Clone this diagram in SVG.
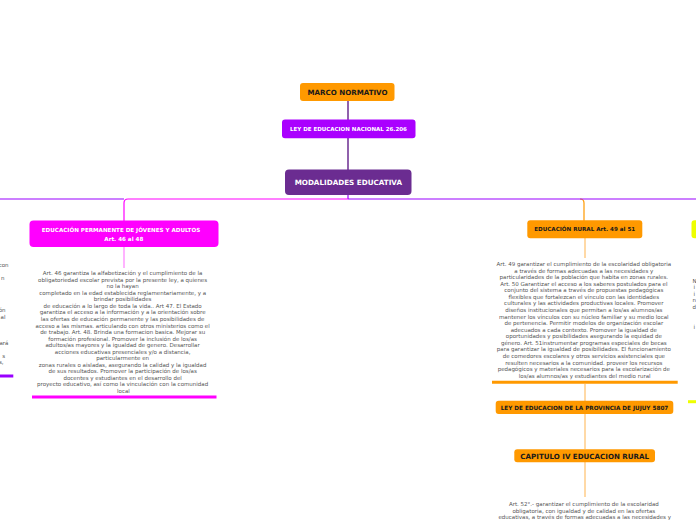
<svg xmlns="http://www.w3.org/2000/svg" width="696" height="520" viewBox="0 0 696 520">
<style>
.nb{font-family:"DejaVu Sans",Verdana,sans-serif;font-weight:bold;text-anchor:middle}
.p{font-family:"DejaVu Sans",Verdana,sans-serif;font-size:5.5px;fill:#555;text-anchor:middle}
.pe{font-family:"DejaVu Sans",Verdana,sans-serif;font-size:5.5px;fill:#555;text-anchor:end}
.ps{font-family:"DejaVu Sans",Verdana,sans-serif;font-size:5.5px;fill:#555;text-anchor:start}
.dark{fill:#1a1a1a}
.white{fill:#fff}
</style>
<rect width="696" height="520" fill="#fff"/>
<g id="connectors" fill="none">
<line x1="348" y1="101" x2="348" y2="120" stroke="#6b2c91" stroke-width="1.5"/>
<line x1="348" y1="138" x2="348" y2="170" stroke="#6b2c91" stroke-width="1.5"/>
<line x1="348" y1="195" x2="348" y2="199" stroke="#9900ff" stroke-width="1.2"/>
<path d="M348,199 H128 Q124,199 124,203 V221" stroke="#ff00ff" stroke-width="1.2"/>
<path d="M580,199 Q584,199 584,203 V221" stroke="#ff9900" stroke-width="1.2"/>
<line x1="0" y1="199" x2="124" y2="199" stroke="#9900ff" stroke-width="1.2"/>
<line x1="348" y1="199" x2="696" y2="199" stroke="#9900ff" stroke-width="1.2"/>
<line x1="124" y1="247" x2="124" y2="268" stroke="#ffb3ff" stroke-width="2"/>
<line x1="585" y1="238" x2="585" y2="258" stroke="#ffd9a6" stroke-width="2"/>
<line x1="585" y1="384" x2="585" y2="401" stroke="#ffd9a6" stroke-width="2"/>
<line x1="585" y1="414" x2="585" y2="449" stroke="#ffd9a6" stroke-width="2"/>
<line x1="585" y1="462" x2="585" y2="497" stroke="#ffd9a6" stroke-width="2"/>
</g>
<g id="marco">
<rect x="300" y="83" width="94.5" height="18" rx="3" fill="#ff9900"/>
<text class="nb dark" x="347.5" y="94.6" font-size="7.1">MARCO NORMATIVO</text>
</g>
<g id="ley-nacional">
<rect x="282" y="119.5" width="133.5" height="18.8" rx="3" fill="#aa00ff"/>
<text class="nb white" x="348.5" y="130.9" font-size="5.5">LEY DE EDUCACION NACIONAL 26.206</text>
</g>
<g id="modalidades">
<rect x="285" y="169.5" width="126.5" height="25.5" rx="4" fill="#6b2c91"/>
<text class="nb white" x="348.3" y="184.7" font-size="7.2">MODALIDADES EDUCATIVA</text>
</g>
<g id="permanente">
<rect x="29.5" y="220.5" width="189" height="26.5" rx="4" fill="#ff00ff"/>
<text class="nb white" x="121" y="232" font-size="5.6">EDUCACIÓN  PERMANENTE DE JÓVENES Y ADULTOS</text>
<text class="nb white" x="123.8" y="241.2" font-size="5.6">Art. 46 al 48</text>
</g>
<g id="permanente-texto">
<text class="p">
<tspan x="123.5" y="275.3">Art. 46 garantiza la alfabetización y el cumplimiento de la</tspan>
<tspan x="123.5" dy="6.53">obligatoriedad escolar prevista por la presente ley, a quienes</tspan>
<tspan x="123.5" dy="6.53">no la hayan</tspan>
<tspan x="123.5" dy="6.53">completado en la edad establecida reglamentariamente, y a</tspan>
<tspan x="123.5" dy="6.53">brindar posibilidades</tspan>
<tspan x="123.5" dy="6.53">de educación a lo largo de toda la vida.. Art 47. El Estado</tspan>
<tspan x="123.5" dy="6.53">garantiza el acceso a la información y a la orientación sobre</tspan>
<tspan x="123.5" dy="6.53">las ofertas de educación permanente y las posibilidades de</tspan>
<tspan x="123.5" dy="6.53">acceso a las mismas. articulando con otros ministerios como el</tspan>
<tspan x="123.5" dy="6.53">de trabajo. Art. 48. Brinda una formacion basica. Mejorar su</tspan>
<tspan x="123.5" dy="6.53">formación profesional. Promover la inclusión de los/as</tspan>
<tspan x="123.5" dy="6.53">adultos/as mayores y la igualdad de genero. Desarrollar</tspan>
<tspan x="123.5" dy="6.53">acciones educativas presenciales y/o a distancia,</tspan>
<tspan x="123.5" dy="6.53">particularmente en</tspan>
<tspan x="123.5" dy="6.53">zonas rurales o aisladas, asegurando la calidad y la igualdad</tspan>
<tspan x="123.5" dy="6.53">de sus resultados. Promover la participación de los/as</tspan>
<tspan x="123.5" dy="6.53">docentes y estudiantes en el desarrollo del</tspan>
<tspan x="123.5" dy="6.53">proyecto educativo, así como la vinculación con la comunidad</tspan>
<tspan x="123.5" dy="6.53">local</tspan>
</text>
<line x1="32" y1="397" x2="216.5" y2="397" stroke="#ff00ff" stroke-width="3"/>
</g>
<g id="izquierda-parcial">
<text class="pe" x="8.5" y="267">con</text>
<text class="pe" x="4.5" y="280.3">n</text>
<text class="pe" x="5.5" y="312">ón</text>
<text class="pe" x="5.5" y="318.7">al</text>
<text class="pe" x="8.5" y="345.3">ará</text>
<text class="pe" x="5" y="358">s</text>
<text class="pe" x="3.5" y="364.3">s,</text>
<line x1="0" y1="376" x2="13.3" y2="376" stroke="#9900ff" stroke-width="3"/>
</g>
<g id="rural">
<rect x="527.3" y="220.3" width="115" height="18" rx="3" fill="#ff9900"/>
<text class="nb dark" x="584.7" y="231.3" font-size="5.6">EDUCACIÓN RURAL Art. 49 al 51</text>
</g>
<g id="rural-texto">
<text class="p">
<tspan x="584.7" y="266">Art. 49 garantizar el cumplimiento de la escolaridad obligatoria</tspan>
<tspan x="584.7" dy="6.57">a través de formas adecuadas a las necesidades y</tspan>
<tspan x="584.7" dy="6.57">particularidades de la población que habita en zonas rurales.</tspan>
<tspan x="584.7" dy="6.57">Art. 50 Garantizar el acceso a los saberes postulados para el</tspan>
<tspan x="584.7" dy="6.57">conjunto del sistema a través de propuestas pedagógicas</tspan>
<tspan x="584.7" dy="6.57">flexibles que fortalezcan el vínculo con las  identidades</tspan>
<tspan x="584.7" dy="6.57">culturales y las actividades productivas locales. Promover</tspan>
<tspan x="584.7" dy="6.57">diseños institucionales que permitan a los/as alumnos/as</tspan>
<tspan x="584.7" dy="6.57">mantener los vínculos con su núcleo familiar y su medio local</tspan>
<tspan x="584.7" dy="6.57">de pertenencia.  Permitir modelos de organización escolar</tspan>
<tspan x="584.7" dy="6.57">adecuados a cada contexto. Promover la igualdad de</tspan>
<tspan x="584.7" dy="6.57">oportunidades y posibilidades asegurando la equidad de</tspan>
<tspan x="584.7" dy="6.57">género. Art. 51instrumentar programas especiales de becas</tspan>
<tspan x="584.7" dy="6.57">para garantizar la igualdad de posibilidades. El funcionamiento</tspan>
<tspan x="584.7" dy="6.57">de comedores escolares y otros servicios  asistenciales que</tspan>
<tspan x="584.7" dy="6.57">resulten necesarios a la comunidad. proveer los recursos</tspan>
<tspan x="584.7" dy="6.57">pedagógicos y materiales necesarios para la escolarización de</tspan>
<tspan x="584.7" dy="6.57">los/as alumnos/as y estudiantes del medio rural</tspan>
</text>
<line x1="492" y1="382.3" x2="677.7" y2="382.3" stroke="#ff9900" stroke-width="3"/>
</g>
<g id="ley-jujuy">
<rect x="495.7" y="400.7" width="177.6" height="13.3" rx="3" fill="#ff9900"/>
<text class="nb dark" x="584.5" y="409.5" font-size="5.7">LEY DE EDUCACION DE LA PROVINCIA DE JUJUY 5807</text>
</g>
<g id="capitulo">
<rect x="514.3" y="449.3" width="140.7" height="13" rx="3" fill="#ff9900"/>
<text class="nb dark" x="584.7" y="458.5" font-size="7.1">CAPITULO IV EDUCACION RURAL</text>
</g>
<g id="capitulo-texto">
<text class="p">
<tspan x="584.7" y="506.3">Art. 52°.- garantizar el cumplimiento de la escolaridad</tspan>
<tspan x="584.7" dy="6.5">obligatoria, con igualdad y de calidad en las ofertas</tspan>
<tspan x="584.7" dy="6.5">educativas, a través de formas adecuadas a las  necesidades y</tspan>
</text>
</g>
<g id="derecha-parcial">
<rect x="691.5" y="220.3" width="10" height="18" rx="3" fill="#eeff00"/>
<text class="ps" x="692.5" y="282.5">N</text>
<text class="ps" x="693.5" y="289">i</text>
<text class="ps" x="693.5" y="295.6">i</text>
<text class="ps" x="692.5" y="302.2">n</text>
<text class="ps" x="692.5" y="308.8">d</text>
<text class="ps" x="693.5" y="328.5">i</text>
<line x1="688" y1="401.7" x2="696" y2="401.7" stroke="#eeff00" stroke-width="3"/>
</g>
</svg>
